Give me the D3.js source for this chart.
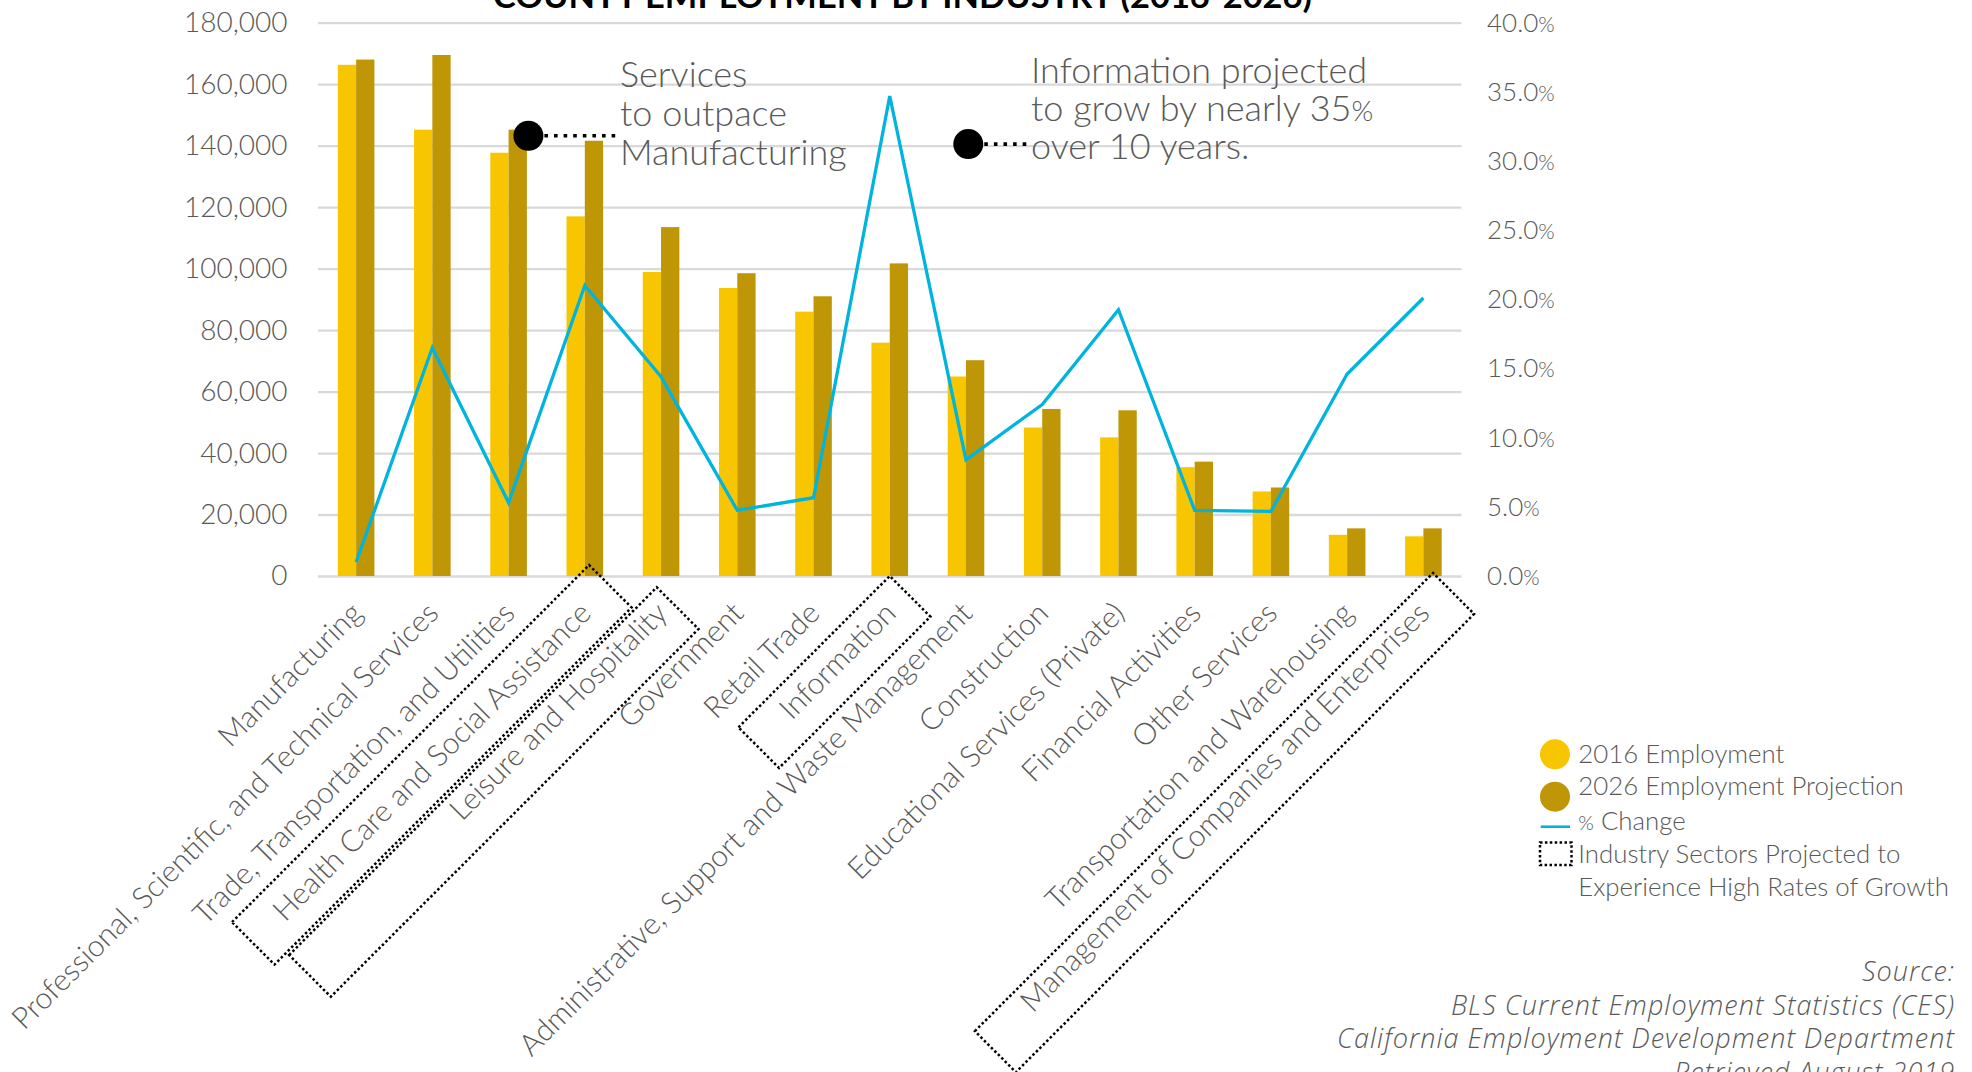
<!DOCTYPE html>
<html><head><meta charset="utf-8">
<script src="https://cdn.jsdelivr.net/npm/d3@7"></script>
<style>
html,body{margin:0;padding:0;background:#fff;}
svg{display:block;font-family:Lato,"Open Sans",sans-serif;}
</style></head><body>
<svg id="chart" width="1972" height="1072"></svg>
<script>
// ---------- data ----------
const categories = [
  "Manufacturing",
  "Professional, Scientific, and Technical Services",
  "Trade, Transportation, and Utilities",
  "Health Care and Social Assistance",
  "Leisure and Hospitality",
  "Government",
  "Retail Trade",
  "Information",
  "Administrative, Support and Waste Management",
  "Construction",
  "Educational Services (Private)",
  "Financial Activities",
  "Other Services",
  "Transportation and Warehousing",
  "Management of Companies and Enterprises"
];
const emp2016 = [166300, 145200, 137700, 117000, 98900, 93700, 86000, 75900, 64900, 48300, 45100, 35400, 27500, 13400, 12900];
const emp2026 = [168000, 169500, 145200, 141600, 113500, 98500, 91000, 101700, 70200, 54350, 53900, 37200, 28800, 15500, 15500];
const pctChange = [1.0, 16.5, 5.3, 21.0, 14.4, 4.75, 5.66, 34.7, 8.4, 12.4, 19.25, 4.75, 4.67, 14.6, 20.1];
const leftTicks = [0, 20000, 40000, 60000, 80000, 100000, 120000, 140000, 160000, 180000];
const rightTicks = [0, 5, 10, 15, 20, 25, 30, 35, 40];
const seriesNames = ["2016 Employment", "2026 Employment Projection"];
const highlighted = ["Health Care and Social Assistance", "Leisure and Hospitality", "Information", "Management of Companies and Enterprises"];
const titleText = "COUNTY EMPLOYMENT BY INDUSTRY (2016-2026)";
const note1 = ["Services", "to outpace", "Manufacturing"];
const note2 = ["Information projected", "to grow by nearly 35%", "over 10 years."];
const legendLabels = ["2016 Employment", "2026 Employment Projection", "% Change", "Industry Sectors Projected to", "Experience High Rates of Growth"];
const sourceLines = ["Source:", "BLS Current Employment Statistics (CES)", "California Employment Development Department", "Retrieved August 2019"];

// ---------- layout / style ----------
const C = {yellow:"#F7C600", gold:"#BE9606", cyan:"#00B4DE", grid:"#D9D9D9", text:"#595959"};
const M = {left:318, right:1461.5, top:22.7, bottom:576};
const svg = d3.select("#chart");

const x = d3.scaleBand().domain(categories).range([M.left, M.right]);
const bw = x.bandwidth();
const xs = d3.scaleBand().domain(seriesNames).range([bw/2 - bw*0.24, bw/2 + bw*0.24]);
const yL = d3.scaleLinear().domain([0, 180000]).range([M.bottom, M.top]);
const yR = d3.scaleLinear().domain([0, 40]).range([M.bottom, M.top]);

// title
svg.append("text").attr("x", 493).attr("y", 8)
  .attr("textLength", 819).attr("lengthAdjust", "spacingAndGlyphs")
  .attr("font-size", 32).attr("font-weight", 700).attr("fill", "#000")
  .text(titleText);

// left axis + gridlines
const gL = svg.append("g").attr("transform", `translate(${M.left},0)`)
  .call(d3.axisLeft(yL).tickValues(leftTicks).tickFormat(d3.format(","))
    .tickSizeInner(-(M.right - M.left)).tickSizeOuter(0).tickPadding(30.5));
gL.select(".domain").remove();
gL.selectAll("line").attr("stroke", C.grid).attr("stroke-width", 2.3);
gL.selectAll("text").attr("font-family", "Lato").attr("font-weight", 300)
  .attr("font-size", 28).attr("fill", C.text);

// right axis
const gR = svg.append("g").attr("transform", `translate(${M.right},0)`)
  .call(d3.axisRight(yR).tickValues(rightTicks).tickFormat(d => d3.format(".1f")(d))
    .tickSize(0).tickPadding(25.5));
gR.select(".domain").remove();
gR.selectAll("text").attr("font-family", "Lato").attr("font-weight", 300)
  .attr("font-size", 26).attr("fill", C.text)
  .append("tspan").attr("font-size", 21).text("%");

// bars
const groups = svg.append("g").selectAll("g").data(categories).join("g")
  .attr("transform", d => `translate(${x(d)},0)`);
groups.selectAll("rect").data((d, i) => [
    {s: seriesNames[0], v: emp2016[i], c: C.yellow},
    {s: seriesNames[1], v: emp2026[i], c: C.gold}])
  .join("rect")
  .attr("x", d => xs(d.s)).attr("width", xs.bandwidth())
  .attr("y", d => yL(d.v)).attr("height", d => yL(0) - yL(d.v))
  .attr("fill", d => d.c);

// line
const line = d3.line().x((d, i) => x(categories[i]) + bw/2).y(d => yR(d));
svg.append("path").datum(pctChange).attr("d", line)
  .attr("fill", "none").attr("stroke", C.cyan).attr("stroke-width", 3.3)
  .attr("stroke-linejoin", "miter");

// x labels
svg.append("g").selectAll("text").data(categories).join("text")
  .attr("transform", d => `translate(${x(d) + bw/2 + 8},615) rotate(-45)`)
  .attr("text-anchor", "end").attr("font-weight", 300).attr("font-size", 30)
  .attr("fill", C.text).text(d => d);

// dotted boxes around high-growth labels
const boxGeom = [
  {dx: 10.8, dy: -4.7, len: 505, wid: 60},
  {dx: -11, dy: 5, len: 520, wid: 59},
  {dx: 0, dy: 0, len: 214, wid: 57.5},
  {dx: 9, dy: 4.7, len: 648, wid: 58}
];
highlighted.forEach((cat, i) => {
  const g = boxGeom[i];
  svg.append("rect")
    .attr("transform", `translate(${x(cat) + bw/2},${M.bottom}) rotate(-45)`)
    .attr("x", g.dx - g.len).attr("y", g.dy).attr("width", g.len).attr("height", g.wid)
    .attr("fill", "none").attr("stroke", "#000").attr("stroke-width", 2.5)
    .attr("stroke-dasharray", "2.5 2.4");
});

// annotations
function note(lines, tx, baseY, lh, dotX, dotY, lineEnd) {
  svg.append("circle").attr("cx", dotX).attr("cy", dotY).attr("r", 15).attr("fill", "#000");
  svg.append("line").attr("x1", dotX + 16).attr("x2", lineEnd).attr("y1", dotY).attr("y2", dotY)
    .attr("stroke", "#000").attr("stroke-width", 3.6).attr("stroke-dasharray", "3.6 6");
  const t = svg.append("text").attr("font-weight", 300).attr("font-size", 36).attr("fill", C.text);
  lines.forEach((l, k) => {
    const ts = t.append("tspan").attr("x", tx).attr("y", baseY + k*lh);
    if (l.endsWith("%")) {
      ts.text(l.slice(0, -1));
      ts.append("tspan").attr("font-size", 28).text("%");
    } else ts.text(l);
  });
}
const trade = categories[2], admin = categories[8];
note(note1, 620, 87.3, 38.6, x(trade) + bw*0.76, yL(143200), 616);
note(note2, 1031, 82.7, 38.3, x(admin) + bw*0.53, yL(140500), 1028);

// legend
const lg = svg.append("g");
lg.append("circle").attr("cx", 1555).attr("cy", 754.3).attr("r", 15).attr("fill", C.yellow);
lg.append("circle").attr("cx", 1555).attr("cy", 796.7).attr("r", 15).attr("fill", C.gold);
lg.append("line").attr("x1", 1540.7).attr("x2", 1570).attr("y1", 826.7).attr("y2", 826.7)
  .attr("stroke", C.cyan).attr("stroke-width", 2.6);
lg.append("rect").attr("x", 1540).attr("y", 842.5).attr("width", 31.5).attr("height", 22.5)
  .attr("fill", "none").attr("stroke", "#000").attr("stroke-width", 2.5).attr("stroke-dasharray", "2.5 2.4");
const legendY = [762.7, 795, 830, 863.3, 895.5];
legendLabels.forEach((l, i) => {
  const t = lg.append("text").attr("x", 1578.3).attr("y", legendY[i])
    .attr("font-weight", 300).attr("font-size", 25.8).attr("fill", C.text);
  if (l.startsWith("%")) {
    t.append("tspan").attr("font-size", 20).text("%");
    t.append("tspan").text(l.slice(1));
  } else t.text(l);
});

// source
sourceLines.forEach((l, i) => {
  svg.append("text").attr("x", 1955).attr("y", 981 + i*33.6)
    .attr("text-anchor", "end").attr("font-family", "'Open Sans', Lato, sans-serif")
    .attr("font-style", "italic").attr("font-weight", 300)
    .attr("letter-spacing", 1).attr("font-size", 27).attr("fill", C.text).text(l);
});
</script>
</body></html>
